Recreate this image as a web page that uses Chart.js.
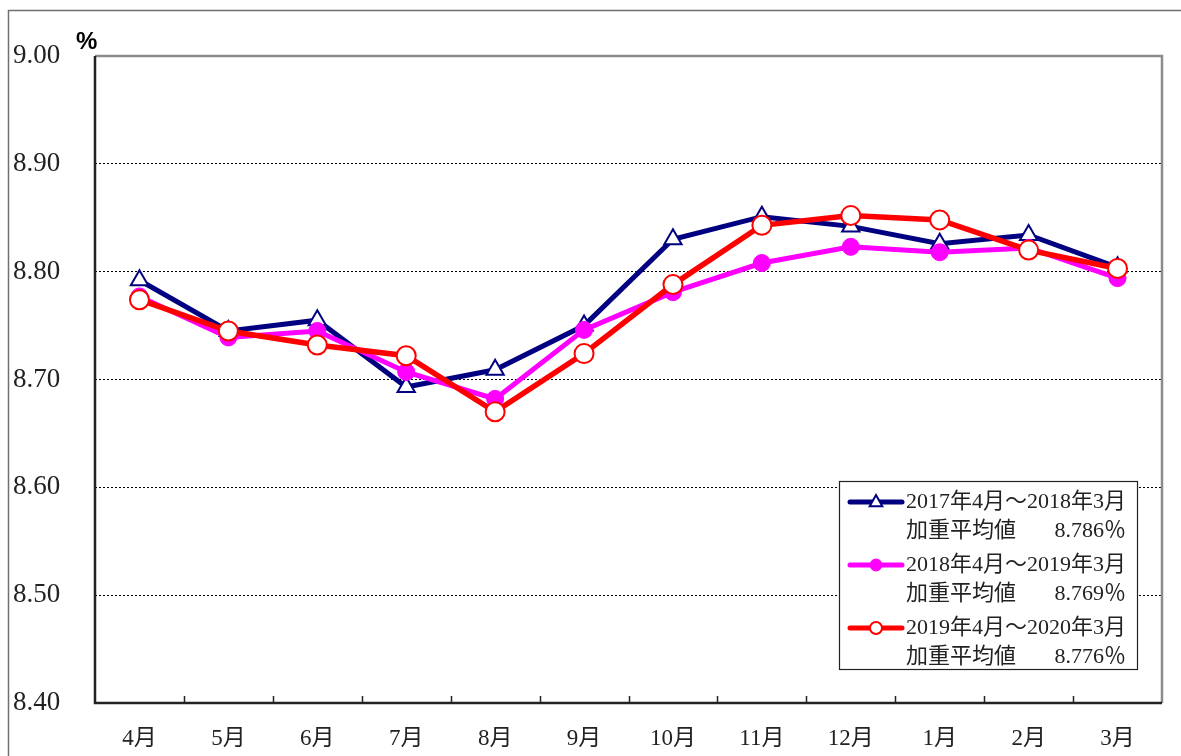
<!DOCTYPE html>
<html lang="ja">
<head>
<meta charset="utf-8">
<script src="https://cdn.jsdelivr.net/npm/chart.js@4/dist/chart.umd.min.js"></script>
<style>
  html, body { margin: 0; padding: 0; background: #fff; }
  #wrap { width: 1181px; height: 756px; position: relative; }
</style>
</head>
<body>
<div id="wrap"><canvas id="chart" width="1181" height="756"></canvas></div>
<script>
// データ
const months = ['4月', '5月', '6月', '7月', '8月', '9月', '10月', '11月', '12月', '1月', '2月', '3月'];
const rate2017 = [8.792, 8.745, 8.755, 8.693, 8.709, 8.750, 8.830, 8.851, 8.842, 8.826, 8.834, 8.804];
const rate2018 = [8.777, 8.739, 8.745, 8.707, 8.682, 8.746, 8.781, 8.808, 8.823, 8.818, 8.822, 8.794];
const rate2019 = [8.774, 8.745, 8.732, 8.722, 8.670, 8.724, 8.788, 8.843, 8.852, 8.848, 8.820, 8.803];
const periods = ['2017年4月～2018年3月', '2018年4月～2019年3月', '2019年4月～2020年3月'];
const avgLabel = '加重平均値';
const averages = ['8.786％', '8.769％', '8.776％'];
const yMin = 8.4, yMax = 9.0, yStep = 0.1;

const serifFont = '"Liberation Serif", "Noto Sans CJK JP", serif';

// 外枠・プロットエリア枠・目盛り
const framePlugin = {
    id: 'frame',
    beforeDraw(chart) {
        const ctx = chart.ctx;
        ctx.save();
        ctx.fillStyle = '#fff';
        ctx.fillRect(0, 0, chart.width, chart.height);
        ctx.strokeStyle = '#707070';
        ctx.lineWidth = 1.5;
        ctx.beginPath();
        ctx.moveTo(8.5, chart.height);
        ctx.lineTo(8.5, 10.5);
        ctx.lineTo(chart.width, 10.5);
        ctx.stroke();
        ctx.restore();
    },
    beforeDatasetsDraw(chart) {
        const ctx = chart.ctx;
        const a = chart.chartArea;
        const xs = chart.scales.x;
        ctx.save();
        // 上・右の枠
        ctx.strokeStyle = '#8c8c8c';
        ctx.lineWidth = 2.5;
        ctx.beginPath();
        ctx.moveTo(a.left, a.top);
        ctx.lineTo(a.right, a.top);
        ctx.lineTo(a.right, a.bottom);
        ctx.stroke();
        // 軸線
        ctx.strokeStyle = '#222';
        ctx.lineWidth = 2.5;
        ctx.beginPath();
        ctx.moveTo(a.left, a.top);
        ctx.lineTo(a.left, a.bottom);
        ctx.lineTo(a.right, a.bottom);
        ctx.stroke();
        // 項目境界の目盛り（内向き）
        ctx.lineWidth = 1.5;
        ctx.beginPath();
        for (let i = 0; i < months.length - 1; i++) {
            const px = (xs.getPixelForValue(i) + xs.getPixelForValue(i + 1)) / 2;
            ctx.moveTo(Math.round(px) + 0.5, a.bottom);
            ctx.lineTo(Math.round(px) + 0.5, a.bottom - 7);
        }
        ctx.stroke();
        ctx.restore();
    },
    afterDraw(chart) {
        const ctx = chart.ctx;
        ctx.save();
        ctx.fillStyle = '#000';
        ctx.font = 'bold 24px "Liberation Sans", "DejaVu Sans", sans-serif';
        ctx.textBaseline = 'middle';
        ctx.textAlign = 'left';
        ctx.fillText('%', 76, 42);
        ctx.restore();
    }
};

// 凡例（2行ラベル）
const legendPlugin = {
    id: 'twoLineLegend',
    afterDraw(chart) {
        const ctx = chart.ctx;
        const box = { x: 839.5, y: 481.5, w: 298, h: 188 };
        ctx.save();
        ctx.fillStyle = '#fff';
        ctx.fillRect(box.x, box.y, box.w, box.h);
        ctx.strokeStyle = '#222';
        ctx.lineWidth = 1.2;
        ctx.strokeRect(box.x, box.y, box.w, box.h);

        chart.data.datasets.forEach((ds, i) => {
            const y1 = 502 + i * 63;
            const y2 = y1 + 29;
            // 線サンプル
            ctx.strokeStyle = ds.borderColor;
            ctx.lineWidth = 5;
            ctx.lineCap = 'round';
            ctx.beginPath();
            ctx.moveTo(850, y1);
            ctx.lineTo(902, y1);
            ctx.stroke();
            ctx.fillStyle = ds.pointBackgroundColor;
            ctx.strokeStyle = ds.pointBorderColor;
            ctx.lineWidth = ds.pointBorderWidth;
            ctx.beginPath();
            if (ds.pointStyle === 'triangle') {
                const r = ds.legendRadius;
                ctx.moveTo(876, y1 - r);
                ctx.lineTo(876 + r * 0.9, y1 + r * 0.6);
                ctx.lineTo(876 - r * 0.9, y1 + r * 0.6);
                ctx.closePath();
            } else {
                ctx.arc(876, y1, ds.legendRadius, 0, Math.PI * 2);
            }
            ctx.fill();
            ctx.stroke();
            // テキスト
            ctx.fillStyle = '#222';
            ctx.font = '22px ' + serifFont;
            ctx.textBaseline = 'middle';
            ctx.textAlign = 'left';
            ctx.fillText(periods[i], 906, y1);
            ctx.fillText(avgLabel, 906, y2);
            ctx.textAlign = 'right';
            ctx.fillText(averages[i], 1126, y2);
        });
        ctx.restore();
    }
};

const ctx = document.getElementById('chart').getContext('2d');
new Chart(ctx, {
    type: 'line',
    data: {
        labels: months,
        datasets: [
            {
                label: periods[0],
                data: rate2017,
                borderColor: '#000080',
                borderWidth: 5,
                pointStyle: 'triangle',
                pointRadius: 10,
                legendRadius: 7,
                pointBackgroundColor: '#fff',
                pointBorderColor: '#000080',
                pointBorderWidth: 2,
                tension: 0,
                order: 3
            },
            {
                label: periods[1],
                data: rate2018,
                borderColor: '#ff00ff',
                borderWidth: 5,
                pointStyle: 'circle',
                pointRadius: 8.5,
                legendRadius: 6,
                pointBackgroundColor: '#ff00ff',
                pointBorderColor: '#ff00ff',
                pointBorderWidth: 1,
                tension: 0,
                order: 2
            },
            {
                label: periods[2],
                data: rate2019,
                borderColor: '#ff0000',
                borderWidth: 5.5,
                pointStyle: 'circle',
                pointRadius: 9.5,
                legendRadius: 6,
                pointBackgroundColor: '#fff',
                pointBorderColor: '#ff0000',
                pointBorderWidth: 2,
                tension: 0,
                order: 1
            }
        ]
    },
    options: {
        responsive: false,
        animation: false,
        layout: { padding: { left: 13, right: 19, top: 56, bottom: 0 } },
        plugins: {
            legend: { display: false },
            tooltip: { enabled: false }
        },
        scales: {
            x: {
                offset: true,
                grid: { display: false, drawTicks: false },
                border: { display: false },
                ticks: {
                    color: '#222',
                    font: { family: serifFont, size: 23 },
                    padding: 22,
                    maxRotation: 0
                },
                afterFit(scale) { scale.height = 53; }
            },
            y: {
                min: yMin,
                max: yMax,
                border: { display: false, dash: [2, 2] },
                grid: {
                    drawTicks: false,
                    lineWidth: 1,
                    color: (c) => (c.tick && (Math.abs(c.tick.value - yMin) < 1e-6 || Math.abs(c.tick.value - yMax) < 1e-6)) ? 'rgba(0,0,0,0)' : '#000'
                },
                ticks: {
                    stepSize: yStep,
                    color: '#222',
                    crossAlign: 'far',
                    padding: 0,
                    font: { family: serifFont, size: 27 },
                    callback: (v) => Number(v).toFixed(2)
                },
                afterFit(scale) { scale.width = 82; }
            }
        }
    },
    plugins: [framePlugin, legendPlugin]
});
</script>
</body>
</html>
